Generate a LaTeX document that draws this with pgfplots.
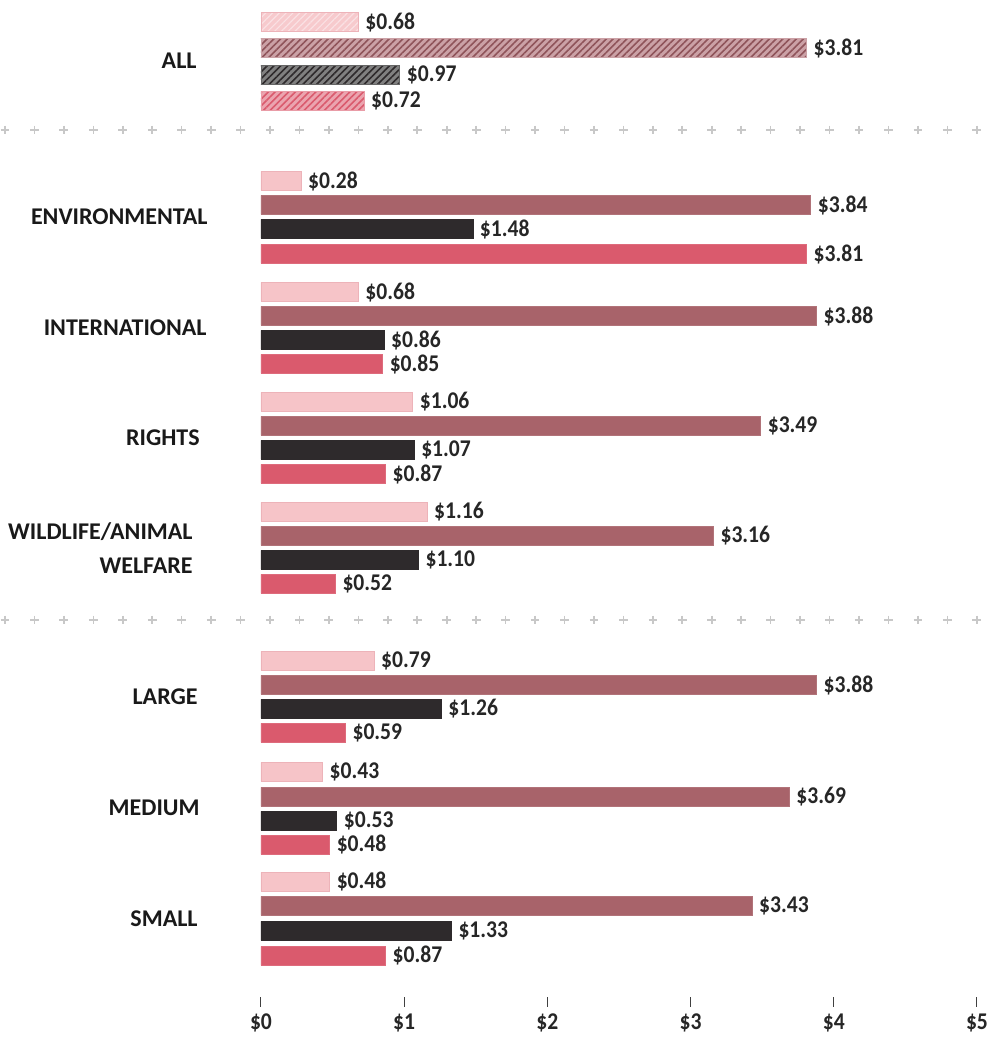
\documentclass[border=0pt]{standalone}
\usepackage{pgfplots}
\pgfplotsset{compat=1.18}
\usepackage{pgfplotstable}
\usetikzlibrary{patterns.meta}
\usepackage{fontspec}
\setmainfont{Carlito}[FakeStretch=0.9]
\newfontfamily\labelfont{Carlito}

\definecolor{cpink}{HTML}{F6C4C8}
\definecolor{cpinkline}{HTML}{EDB3B9}
\definecolor{cmauve}{HTML}{A8636A}
\definecolor{cdark}{HTML}{2E2A2C}
\definecolor{cred}{HTML}{DA5A6D}
\definecolor{csep}{HTML}{C8C8C8}

% y = row position (px from top), x = dollars
\pgfplotstableread{
y x
181 0.28
292 0.68
402 1.06
512 1.16
661 0.79
772 0.43
882 0.48
}\pinkdata
\pgfplotstableread{
y x
205 3.84
316 3.88
426 3.49
536 3.16
685 3.88
797 3.69
906 3.43
}\mauvedata
\pgfplotstableread{
y x
229 1.48
340 0.86
450 1.07
560 1.10
709 1.26
821 0.53
931 1.33
}\darkdata
\pgfplotstableread{
y x
254 3.81
364 0.85
474 0.87
584 0.52
733 0.59
845 0.48
956 0.87
}\reddata
% the ALL group (hatched)
\pgfplotstableread{
y x
22 0.68
}\allpink
\pgfplotstableread{
y x
48 3.81
}\allmauve
\pgfplotstableread{
y x
75 0.97
}\alldark
\pgfplotstableread{
y x
101 0.72
}\allred
% separator marks
\pgfplotstableread{
x a b
-1.788 130 620
-1.582 130 620
-1.377 130 620
-1.171 130 620
-0.965 130 620
-0.760 130 620
-0.554 130 620
-0.348 130 620
-0.143 130 620
0.063 130 620
0.269 130 620
0.474 130 620
0.680 130 620
0.886 130 620
1.091 130 620
1.297 130 620
1.503 130 620
1.708 130 620
1.914 130 620
2.120 130 620
2.325 130 620
2.531 130 620
2.737 130 620
2.942 130 620
3.148 130 620
3.354 130 620
3.559 130 620
3.765 130 620
3.971 130 620
4.176 130 620
4.382 130 620
4.588 130 620
4.793 130 620
4.999 130 620
}\sepdata

\begin{document}
\begin{tikzpicture}
\begin{axis}[
    scale only axis,
    width=495pt, height=501pt,
    xmin=-1.8226, xmax=5.0908,
    ymin=0, ymax=1002, y dir=reverse,
    axis y line=none,
    axis x line*=bottom,
    x axis line style={draw=none},
    xtick={0,1,2,3,4,5},
    xticklabels={\$0,\$1,\$2,\$3,\$4,\$5},
    major tick length=5pt,
    tick align=center,
    tick style={black!75, line width=0.5pt},
    xticklabel style={font=\fontsize{12}{13}\selectfont\bfseries, text=black!85},
    clip=false,
    /pgf/number format/assume math mode=true,
    every node near coord/.style={font=\fontsize{12}{13}\selectfont\bfseries, text=black!85},
    barstyle/.style={xbar, bar width=19, bar shift=0pt, point meta=x,
        nodes near coords={\$\pgfmathprintnumber[fixed,fixed zerofill,precision=2]{\pgfplotspointmeta}}},
]
\addplot[barstyle, fill=cpink, draw=cpinkline] table[x=x, y=y] {\pinkdata};
\addplot[barstyle, fill=cmauve, draw=cmauve!90] table[x=x, y=y] {\mauvedata};
\addplot[barstyle, fill=cdark, draw=cdark] table[x=x, y=y] {\darkdata};
\addplot[barstyle, fill=cred, draw=cred!90] table[x=x, y=y] {\reddata};

\addplot[barstyle, fill=cpink!90, draw=cpinkline,
    postaction={pattern={Lines[angle=45, distance=2.4pt, line width=0.6pt]}, pattern color=white!50!cpink}]
    table[x=x, y=y] {\allpink};
\addplot[barstyle, fill=cmauve!60, draw=cmauve!60,
    postaction={pattern={Lines[angle=45, distance=2.4pt, line width=0.8pt]}, pattern color=cmauve!85!black}]
    table[x=x, y=y] {\allmauve};
\addplot[barstyle, fill=black!50, draw=black!60,
    postaction={pattern={Lines[angle=45, distance=2.4pt, line width=0.8pt]}, pattern color=cdark}]
    table[x=x, y=y] {\alldark};
\addplot[barstyle, fill=cred!55, draw=cred!60,
    postaction={pattern={Lines[angle=45, distance=2.4pt, line width=0.8pt]}, pattern color=cred}]
    table[x=x, y=y] {\allred};

\addplot[only marks, mark=+, mark size=2.2pt, csep, line width=0.8pt] table[x=x, y=a] {\sepdata};
\addplot[only marks, mark=+, mark size=2.2pt, csep, line width=0.8pt] table[x=x, y=b] {\sepdata};

\begin{scope}[every node/.style={anchor=east, inner sep=0pt, align=right,
        font=\labelfont\fontsize{12}{17}\selectfont\bfseries, text=black!90}]
\node at (axis cs:-0.447, 61) {ALL};
\node at (axis cs:-0.370, 217) {ENVIRONMENTAL};
\node at (axis cs:-0.377, 328) {INTERNATIONAL};
\node at (axis cs:-0.426, 438) {RIGHTS};
\node at (axis cs:-0.475, 548) {WILDLIFE/ANIMAL\\WELFARE};
\node at (axis cs:-0.440, 697) {LARGE};
\node at (axis cs:-0.426, 808) {MEDIUM};
\node at (axis cs:-0.440, 919) {SMALL};
\end{scope}
% keep the page the size of the reference
\path (axis cs:-1.8226,0) (axis cs:5.0908,1039);
\end{axis}
\end{tikzpicture}
\end{document}
